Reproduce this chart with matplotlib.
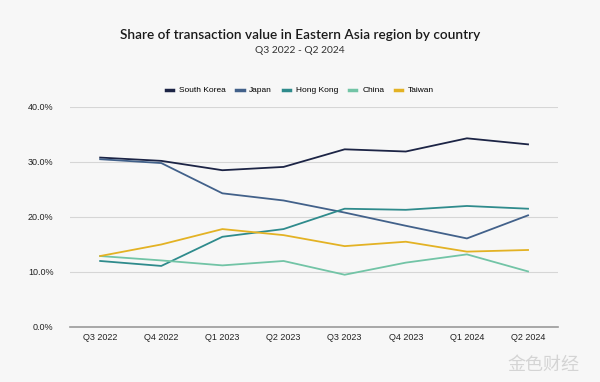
import matplotlib.pyplot as plt
import numpy as np

quarters = ["Q3 2022", "Q4 2022", "Q1 2023", "Q2 2023",
            "Q3 2023", "Q4 2023", "Q1 2024", "Q2 2024"]

south_korea = [30.8, 30.2, 28.5, 29.1, 32.3, 31.9, 34.3, 33.2]
japan = [30.5, 29.8, 24.3, 23.0, 20.8, 18.4, 16.1, 20.3]
hong_kong = [12.0, 11.1, 16.4, 17.8, 21.5, 21.3, 22.0, 21.5]
china = [12.9, 12.1, 11.2, 12.0, 9.5, 11.7, 13.2, 10.1]
taiwan = [12.9, 15.0, 17.8, 16.7, 14.7, 15.5, 13.7, 14.0]

series = [
    ("South Korea", south_korea, "#1c2445"),
    ("Japan", japan, "#42618a"),
    ("Hong Kong", hong_kong, "#2f8b8c"),
    ("China", china, "#72c4a6"),
    ("Taiwan", taiwan, "#e3b224"),
]

bg = "#f7f7f7"
fig = plt.figure(figsize=(6.0, 3.82), dpi=100, facecolor=bg)
ax = fig.add_axes([0.117, 0.144, 0.813, 0.576], facecolor=bg)

x = np.arange(len(quarters))
for name, vals, col in series:
    ax.plot(x, vals, color=col, linewidth=1.3, label=name)

ax.set_xlim(-0.49, len(quarters) - 0.51)
ax.set_ylim(0, 40)
ax.set_yticks([0, 10, 20, 30, 40])
ax.set_yticklabels(["0.0%", "10.0%", "20.0%", "30.0%", "40.0%"])
ax.set_xticks(x)
ax.set_xticklabels(quarters)
ax.tick_params(axis="both", length=0, labelsize=6.5, colors="#222222",
               labelfontfamily="Liberation Sans")
ax.tick_params(axis="y", pad=12)
ax.tick_params(axis="x", pad=4)
ax.grid(axis="y", color="#d6d6d6", linewidth=0.8)
ax.set_axisbelow(True)
for s in ["top", "right", "left"]:
    ax.spines[s].set_visible(False)
ax.spines["bottom"].set_color("#9a9a9a")
ax.spines["bottom"].set_linewidth(1.2)

fig.text(0.5, 0.908, "Share of transaction value in Eastern Asia region by country",
         ha="center", va="center", fontsize=9.8, fontweight="semibold",
         family="Lato", color="#1a1a1a")
fig.text(0.5, 0.868, "Q3 2022 - Q2 2024", ha="center", va="center",
         fontsize=7.4, family="Lato", color="#333333")

leg = fig.legend(loc="center", bbox_to_anchor=(0.5, 0.763), ncol=5,
                 frameon=False,
                 prop={"family": "Liberation Sans", "size": 6},
                 handlelength=0.85, handletextpad=0.7, columnspacing=1.3)
for line in leg.get_lines():
    line.set_linewidth(2.5)

fig.text(0.965, 0.045, "金色财经", ha="right", va="center", fontsize=13,
         family=["Noto Sans CJK SC", "DejaVu Sans"], color="#d4d4d4")

fig.savefig("out.png", dpi=100, facecolor=bg)
